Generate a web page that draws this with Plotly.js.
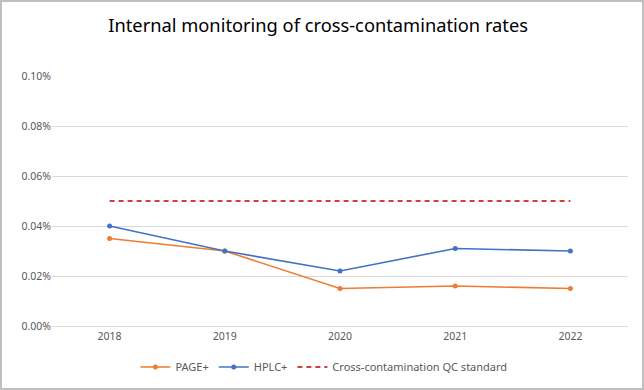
<!DOCTYPE html>
<html>
<head>
<meta charset="utf-8">
<script src="https://cdn.plot.ly/plotly-3.0.1.min.js"></script>
<style>
html,body{margin:0;padding:0;background:#fff;}
#wrap{position:relative;width:644px;height:390px;}
#chart{width:644px;height:390px;}
#frame{position:absolute;left:0;top:0;width:644px;height:390px;box-sizing:border-box;border:2px solid #bfbfbf;pointer-events:none;}
</style>
</head>
<body>
<div id="wrap"><div id="chart"></div><div id="frame"></div></div>
<script>
const years = ["2018", "2019", "2020", "2021", "2022"];
const pagePlus = [0.00035, 0.00030, 0.00015, 0.00016, 0.00015];
const hplcPlus = [0.00040, 0.00030, 0.00022, 0.00031, 0.00030];
const qcStandard = [0.0005, 0.0005, 0.0005, 0.0005, 0.0005];
const yTicks = [0, 0.0002, 0.0004, 0.0006, 0.0008, 0.001];

const FONT = "'Noto Sans', 'Open Sans', sans-serif";
const traces = [
  {x: years, y: pagePlus, name: "PAGE+", type: "scatter", mode: "lines+markers",
   line: {color: "#ED7D31", width: 1.6}, marker: {color: "#ED7D31", size: 5}},
  {x: years, y: hplcPlus, name: "HPLC+", type: "scatter", mode: "lines+markers",
   line: {color: "#4472C4", width: 1.6}, marker: {color: "#4472C4", size: 5}},
  {x: years, y: qcStandard, name: "Cross-contamination QC standard", type: "scatter", mode: "lines",
   line: {color: "#C00000", width: 1.6, dash: "5px,4px"}}
];
const layout = {
  width: 644, height: 390,
  margin: {l: 52, r: 16, t: 76, b: 64},
  paper_bgcolor: "#fff", plot_bgcolor: "#fff",
  font: {family: FONT, color: "#595959", size: 10.5},
  title: {text: "Internal monitoring of cross-contamination rates",
          font: {family: FONT, size: 18.3, color: "#000"},
          x: 0.494, xref: "container", xanchor: "center",
          y: 1 - 26/390, yref: "container", yanchor: "middle"},
  xaxis: {type: "category", range: [-0.5, 4.5], showgrid: false, zeroline: false,
          showline: true, linecolor: "#d9d9d9", linewidth: 1, ticks: "",
          tickfont: {size: 10.5, color: "#595959"}, fixedrange: true},
  yaxis: {range: [0, 0.001], tickvals: yTicks, tickformat: ".2%", showgrid: true,
          gridcolor: "#d9d9d9", gridwidth: 1, zeroline: false, showline: false, ticks: "",
          tickfont: {size: 10.5, color: "#595959"}, fixedrange: true},
  showlegend: true,
  legend: {orientation: "h", xref: "container", x: 0.503, xanchor: "center",
           yref: "container", y: 1 - 367/390, yanchor: "middle",
           font: {size: 11, color: "#595959"}, itemwidth: 30, tracegroupgap: 0}
};
Plotly.newPlot("chart", traces, layout, {displayModeBar: false, staticPlot: true});
</script>
</body>
</html>
